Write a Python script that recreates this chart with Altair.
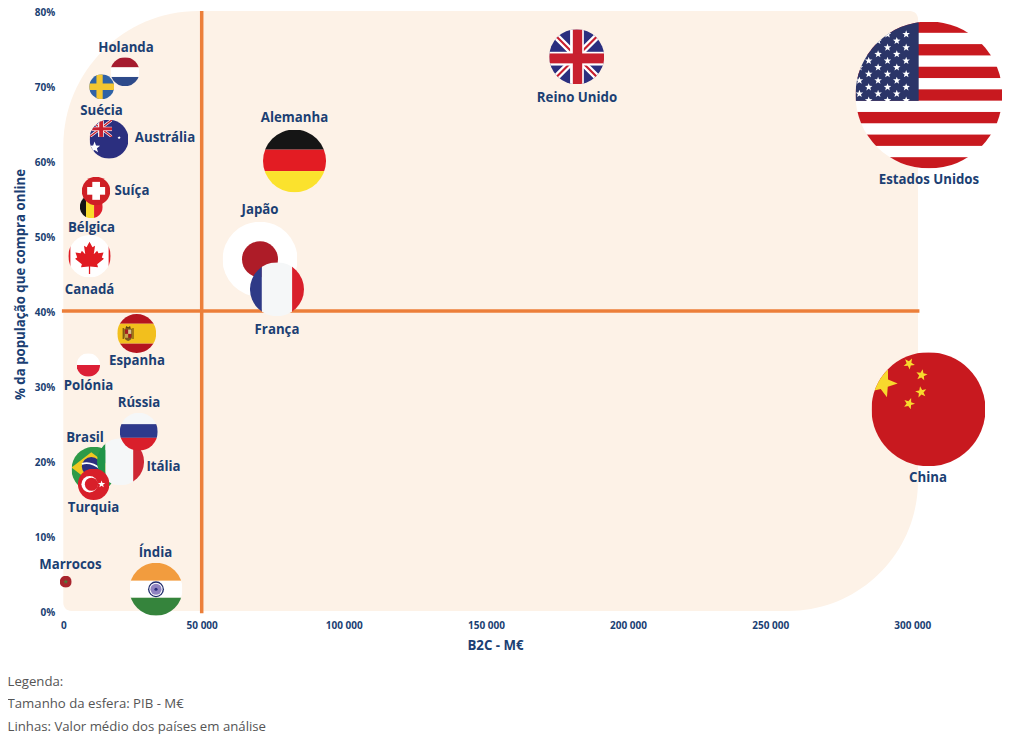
import base64, math
import altair as alt
import pandas as pd

countries = ["Holanda","Suécia","Austrália","Alemanha","Bélgica","Suíça","Canadá","Japão","França","Espanha",
             "Polónia","Brasil","Itália","Rússia","Turquia","Marrocos","Índia","Reino Unido","Estados Unidos","China"]
b2c = [22290,13870,16510,82650,10120,11810,9470,70510,76490,26520,
       9030,11090,20670,27280,10980,900,33490,181925,305860,305690]
online = [71.9,69.9,62.9,60.0,53.9,56.0,47.3,46.9,42.9,37.0,
          32.8,18.9,19.9,23.9,16.9,3.9,2.9,73.9,68.8,26.9]
diameter = [29,25,39,63,23,28.5,42.5,75,54,39,23.5,45,47,38,31.5,12,53,55,147,114]
label_x = [22650,13800,36740,82650,10190,24820,9470,70510,76490,26630,
           9100,7840,36200,27350,10910,2600,33310,182030,305860,305510]
label_y = [75.2,66.67,63.07,65.8,51.13,56.13,42.93,53.53,37.6,33.4,
           30.07,23.13,19.33,27.8,13.8,6.2,7.8,68.47,57.53,17.8]
x_ticks = [0,50000,100000,150000,200000,250000,300000]
y_ticks = [0,10,20,30,40,50,60,70,80]
mean_b2c = 50000
mean_online = 40
legend_lines = ["Legenda:", "Tamanho da esfera: PIB - M€", "Linhas: Valor médio dos países em análise"]

NAVY = "#1b3f73"
FONT = "Open Sans"


def star(cx, cy, r, fill, rot=-90):
    pts = []
    for i in range(10):
        rr = r if i % 2 == 0 else r * 0.42
        a = math.radians(rot + i * 36)
        pts.append(f"{cx + rr * math.cos(a):.2f},{cy + rr * math.sin(a):.2f}")
    return f'<polygon points="{" ".join(pts)}" fill="{fill}"/>'


def rect(x, y, w, h, fill):
    return f'<rect x="{x}" y="{y}" width="{w}" height="{h}" fill="{fill}"/>'


def hbands(stops, colors):
    return "".join(rect(0, stops[i], 100, stops[i + 1] - stops[i], colors[i]) for i in range(len(colors)))


def vbands(stops, colors):
    return "".join(rect(stops[i], 0, stops[i + 1] - stops[i], 100, colors[i]) for i in range(len(colors)))


def union(diag=12, red_diag=4):
    return (rect(0, 0, 100, 100, "#2b2f7f")
            + f'<path d="M0 0L100 100M100 0L0 100" stroke="#fff" stroke-width="{diag}"/>'
            + f'<path d="M0 0L100 100M100 0L0 100" stroke="#c8202f" stroke-width="{red_diag}"/>'
            + rect(38, 0, 25, 100, "#fff") + rect(0, 41, 100, 25, "#fff")
            + rect(43, 0, 17, 100, "#c8202f") + rect(0, 44, 100, 18, "#c8202f"))


def usa():
    s = rect(0, 0, 100, 100, "#fff")
    for i in range(0, 13, 2):
        s += rect(0, i * 100 / 13, 100, 100 / 13, "#c8191f")
    s += rect(0, 0, 43, 54, "#2b3568")
    cols_a = [34.5, 21.8, 9.0]
    cols_b = [28.1, 15.4, 2.7]
    for r in range(11):
        y = 8.7 + r * 4.5
        for x in (cols_a if r % 2 == 0 else cols_b):
            s += star(x, y, 2.7, "#fff")
    return s


MAPLE = ("50,16 57,29 63,25 60,45 68,37 71,43 83,41 79,53 84,56 68,69 70,76 51.5,74 51.5,92 48.5,92 "
         "48.5,74 30,76 32,69 16,56 21,53 17,41 29,43 32,37 40,45 37,25 43,29")

ARMS = (rect(14, 36, 3, 28, "#6b4a14") + rect(39, 36, 3, 28, "#6b4a14")
        + '<path d="M18 38H38V56Q38 68 28 69Q18 68 18 56Z" fill="#7d5a1e"/>'
        + rect(20, 40, 8, 11, "#a61c20") + rect(28, 51, 8, 10, "#a61c20")
        + rect(28, 40, 8, 11, "#d9c08a") + rect(20, 51, 8, 10, "#c9a24a")
        + '<path d="M21 38L23 31L28 34L33 31L35 38Z" fill="#5e4212"/>')

flags = {
    "Holanda": hbands([0, 35, 68, 100], ["#a51c30", "#fff", "#2d4a8a"]),
    "Suécia": rect(0, 0, 100, 100, "#2f62a6") + rect(29, 0, 25, 100, "#f3c631") + rect(0, 37, 100, 26, "#f3c631"),
    "Austrália": rect(0, 0, 100, 100, "#2b2f7f")
        + f'<svg x="0" y="0" width="58" height="44" viewBox="0 0 100 100" preserveAspectRatio="none">{union(14, 7)}</svg>'
        + star(13, 71, 15, "#fff") + star(76, 46, 4.5, "#fff"),
    "Alemanha": hbands([0, 32, 66, 100], ["#151515", "#e31c23", "#fbe22d"]),
    "Bélgica": vbands([0, 27, 62, 100], ["#151515", "#f9dc2c", "#e0202c"]),
    "Suíça": rect(0, 0, 100, 100, "#cf1f26") + rect(19, 36, 63, 27, "#fff") + rect(37, 18, 27, 63, "#fff"),
    "Canadá": rect(0, 0, 100, 100, "#fff") + rect(0, 0, 5, 100, "#e01b22") + rect(95, 0, 5, 100, "#e01b22")
        + f'<polygon points="{MAPLE}" fill="#e01b22"/>',
    "Japão": rect(0, 0, 100, 100, "#fff") + '<circle cx="50" cy="50" r="24" fill="#ae1c28"/>',
    "França": vbands([0, 22, 78, 100], ["#2e3a87", "#f5f7f8", "#d91f2b"]),
    "Espanha": hbands([0, 25, 76, 100], ["#b5141f", "#f2bf1d", "#b5141f"]) + ARMS,
    "Polónia": hbands([0, 50, 100], ["#fff", "#dc1f36"]),
    "Brasil": rect(0, 0, 100, 100, "#2e9a48") + '<polygon points="0,46 44,12 88,46 44,80" fill="#f1c821"/>'
        + '<circle cx="44" cy="44" r="21" fill="#2b2f7f"/>'
        + '<path d="M23 38Q44 32 65 50" stroke="#fff" stroke-width="4" fill="none"/>',
    "Itália": vbands([0, 18, 77, 100], ["#1f9448", "#f5f7f8", "#cf2734"]),
    "Rússia": hbands([0, 30, 66, 100], ["#f5f7f8", "#2e3a8c", "#d91f2b"]),
    "Turquia": rect(0, 0, 100, 100, "#d81f2a") + '<circle cx="37" cy="50" r="26" fill="#fff"/>'
        + '<circle cx="43" cy="50" r="21" fill="#d81f2a"/>' + star(75, 50, 12, "#fff"),
    "Marrocos": rect(0, 0, 100, 100, "#a8252d") + star(50, 50, 22, "#4e7a3a"),
    "Índia": hbands([0, 34, 66, 100], ["#f29c3e", "#fff", "#35843c"])
        + '<circle cx="50" cy="50" r="15" fill="#1f2a6b"/><circle cx="50" cy="50" r="12.5" fill="#fff"/>'
        + '<circle cx="50" cy="50" r="10.5" fill="#8f83c0"/><circle cx="50" cy="50" r="3" fill="#2b2f7f"/>',
    "Reino Unido": union(),
    "Estados Unidos": usa(),
    "China": rect(0, 0, 100, 100, "#c8191f") + star(10, 27, 13, "#f8d92d", -70)
        + star(33, 10, 5.2, "#f8d92d", -60) + star(44, 20, 5.2, "#f8d92d", -80)
        + star(43.5, 35, 5.2, "#f8d92d", -100) + star(33, 45, 5.2, "#f8d92d", -70),
}


def flag_url(name):
    svg = ('<svg xmlns="http://www.w3.org/2000/svg" width="300" height="300" viewBox="0 0 100 100">'
           '<defs><clipPath id="c"><circle cx="50" cy="50" r="50"/></clipPath></defs>'
           f'<g clip-path="url(#c)">{flags[name]}</g></svg>')
    return "data:image/svg+xml;base64," + base64.b64encode(svg.encode()).decode()


df = pd.DataFrame({"pais": countries, "b2c": b2c, "online": online, "d": diameter,
                   "lx": label_x, "ly": label_y})
df["url"] = [flag_url(n) for n in countries]

x_scale = alt.Scale(domain=[0, 50000, 300000], range=[0, 138.4, 849], clamp=False)
y_scale = alt.Scale(domain=[0, 80])

x_axis = alt.Axis(values=x_ticks, labelExpr="replace(format(datum.value, ','), /,/g, ' ')", grid=False, domain=False,
                  ticks=False, labelFont=FONT, labelFontWeight="bold", labelFontSize=10, labelColor=NAVY,
                  labelPadding=14, labelOverlap=False, title="B2C - M€", titleFont=FONT, titleFontWeight="bold",
                  titleFontSize=13.25, titleColor=NAVY, titleX=431.7, titleY=34, titleAlign="center",
                  titleBaseline="middle", labelBaseline="middle", labelFlush=False)
y_axis = alt.Axis(values=y_ticks, labelExpr="datum.value + '%'", grid=False, domain=False, ticks=False,
                  labelFont=FONT, labelFontWeight="bold", labelFontSize=10, labelColor=NAVY, labelPadding=8.5,
                  labelOffset=1, labelBound=False, labelOverlap=False,
                  title="% da população que compra online", titleFont=FONT, titleFontWeight="bold",
                  titleFontSize=13.25, titleColor=NAVY, titleX=-42.5, titleY=273, titleAlign="center",
                  titleBaseline="middle")

bg = alt.Chart(pd.DataFrame({"x": [0], "x2": [302000], "y": [0], "y2": [80]})).mark_rect(
    color="#fdf2e7", cornerRadiusTopLeft=135, cornerRadiusBottomRight=130,
    cornerRadiusTopRight=8, cornerRadiusBottomLeft=8
).encode(x=alt.X("x:Q", scale=x_scale, axis=x_axis), x2="x2:Q",
         y=alt.Y("y:Q", scale=y_scale, axis=y_axis), y2="y2:Q")

v_rule = alt.Chart(pd.DataFrame({"x": [mean_b2c], "y": [-0.3], "y2": [80]})).mark_rule(
    color="#ec7f3a", strokeWidth=3.5
).encode(x=alt.X("x:Q", scale=x_scale), y=alt.Y("y:Q", scale=y_scale), y2="y2:Q")
h_rule = alt.Chart(pd.DataFrame({"x": [-500], "x2": [302500], "y": [mean_online]})).mark_rule(
    color="#ec7f3a", strokeWidth=3.5
).encode(x=alt.X("x:Q", scale=x_scale), x2="x2:Q", y=alt.Y("y:Q", scale=y_scale))

flag_layers = []
for i, name in enumerate(countries):
    flag_layers.append(
        alt.Chart(df.iloc[[i]]).mark_image(width=diameter[i], height=diameter[i], align="center", baseline="middle")
        .encode(x=alt.X("b2c:Q", scale=x_scale), y=alt.Y("online:Q", scale=y_scale), url="url:N")
    )

labels = alt.Chart(df[["pais", "lx", "ly"]]).mark_text(
    font=FONT, fontWeight="bold", fontSize=13.25, color=NAVY, align="center", baseline="middle", dy=0.5
).encode(x=alt.X("lx:Q", scale=x_scale), y=alt.Y("ly:Q", scale=y_scale), text="pais:N")

legend_layers = []
for line, yy in zip(legend_lines, [671, 693, 716]):
    legend_layers.append(
        alt.Chart(pd.DataFrame({"t": [line]})).mark_text(
            font=FONT, fontSize=13.2, color="#555555", align="left", baseline="middle"
        ).encode(x=alt.value(-55.8), y=alt.value(yy), text="t:N")
    )

chart = alt.layer(bg, v_rule, h_rule, *flag_layers, labels, *legend_layers).resolve_scale(
    x="shared", y="shared"
).properties(
    width=849, height=600,
    padding={"left": 55.3, "top": 3, "right": 103.7, "bottom": 128},
    autosize=alt.AutoSizeParams(type="none"),
).configure_view(stroke=None)

chart.save("out.html", embed_options={"renderer": "svg", "actions": False})
